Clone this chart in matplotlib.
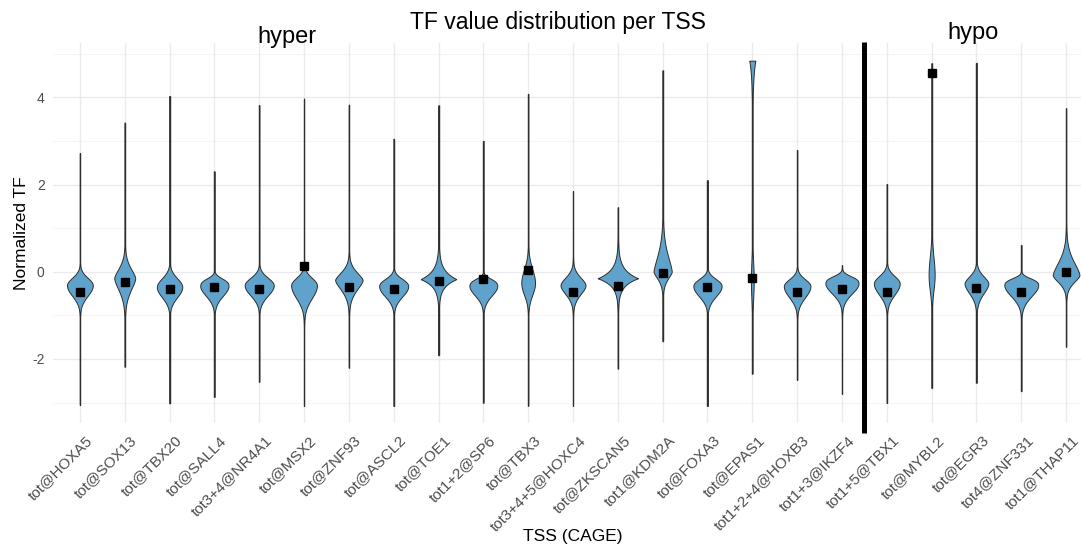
import numpy as np
import matplotlib
matplotlib.use("Agg")
import matplotlib.pyplot as plt
import matplotlib.transforms as mtrans

plt.rcParams["font.family"] = ["Liberation Sans", "DejaVu Sans"]

# TSS categories (left of the divider: hyper, right: hypo)
tss = ["tot@HOXA5", "tot@SOX13", "tot@TBX20", "tot@SALL4", "tot3+4@NR4A1",
       "tot@MSX2", "tot@ZNF93", "tot@ASCL2", "tot@TOE1", "tot1+2@SP6",
       "tot@TBX3", "tot3+4+5@HOXC4", "tot@ZKSCAN5", "tot1@KDM2A", "tot@FOXA3",
       "tot@EPAS1", "tot1+2+4@HOXB3", "tot1+3@IKZF4", "tot1+5@TBX1",
       "tot@MYBL2", "tot@EGR3", "tot4@ZNF331", "tot1@THAP11"]
n_hyper = 18

# range of normalized TF values per TSS
tf_min = [-3.06, -2.18, -3.02, -2.87, -2.52, -3.08, -2.20, -3.08, -1.92, -3.00,
          -3.07, -3.08, -2.22, -1.60, -3.08, -2.34, -2.48, -2.80, -3.01,
          -2.67, -2.55, -2.74, -1.72]
tf_max = [2.72, 3.42, 4.03, 2.30, 3.82, 3.97, 3.83, 3.05, 3.82, 3.00,
          4.08, 1.85, 1.48, 4.62, 2.10, 4.84, 2.79, 0.15, 2.01,
          4.78, 4.79, 0.61, 3.75]
# density mode and its spread above / below the mode
tf_mode = [-0.31, -0.15, -0.35, -0.33, -0.31, -0.31, -0.19, -0.33, -0.17, -0.33,
           -0.26, -0.31, -0.15, 0.00, -0.33, -0.20, -0.33, -0.27, -0.27,
           -0.08, -0.27, -0.31, -0.08]
spread_up = [0.24, 0.33, 0.28, 0.21, 0.24, 0.24, 0.26, 0.22, 0.20, 0.20,
             0.45, 0.26, 0.20, 0.55, 0.22, 0.60, 0.22, 0.20, 0.24,
             0.60, 0.24, 0.19, 0.45]
spread_down = [0.34, 0.40, 0.33, 0.32, 0.33, 0.42, 0.33, 0.33, 0.17, 0.31,
               0.38, 0.30, 0.17, 0.24, 0.33, 0.60, 0.36, 0.33, 0.36,
               0.50, 0.33, 0.36, 0.24]
# kernel sharpness above / below the mode
power_up = [2.0, 1.6, 2.0, 2.8, 2.0, 2.0, 1.6, 2.2, 1.0, 2.8,
            2.0, 1.8, 1.0, 1.5, 2.2, 2.0, 2.0, 2.8, 2.0,
            2.0, 1.8, 2.8, 1.6]
power_down = [2.0, 1.6, 2.0, 1.9, 2.0, 2.0, 1.6, 2.0, 1.0, 1.9,
              2.0, 1.8, 1.0, 1.5, 2.0, 2.0, 2.0, 1.9, 2.0,
              2.0, 1.8, 1.9, 1.6]
peak_density = [0.64, 0.52, 0.63, 0.70, 0.72, 0.64, 0.68, 0.72, 0.89, 0.69,
                0.34, 0.62, 1.00, 0.45, 0.70, 0.07, 0.66, 0.82, 0.64,
                0.15, 0.59, 0.84, 0.66]
# secondary cluster sitting at the top of the range (EPAS1)
upper_density = [0.0] * 15 + [0.15] + [0.0] * 7
upper_spread = [0.0] * 15 + [0.42] + [0.0] * 7
# summary point per TSS
tf_center = [-0.47, -0.23, -0.40, -0.35, -0.40, 0.12, -0.34, -0.40, -0.21, -0.17,
             0.04, -0.46, -0.33, -0.04, -0.34, -0.15, -0.46, -0.40, -0.46,
             4.55, -0.37, -0.47, -0.01]

W, H = 1081, 545
fig = plt.figure(figsize=(W / 100, H / 100), dpi=100)


def fx(px):
    return px / W


def fy(py):
    return 1 - py / H


ax_left, ax_right, ax_top, ax_bot = 53, 1093, 43.4, 423.3
ax = fig.add_axes([fx(ax_left), fy(ax_bot), fx(ax_right - ax_left), (ax_bot - ax_top) / H])

n = len(tss)
xs = np.arange(1, n + 1)
ylo = min(tf_min)
yhi = max(tf_max)
pad = 0.05 * (yhi - ylo)
ax.set_xlim(0.4, n + 0.6)
ax.set_ylim(ylo - pad, yhi + pad)

# grid in the style of a minimal theme
for v in [-3, -1, 1, 3, 5]:
    ax.axhline(v, color="#F3F3F3", lw=0.6, zorder=0)
for v in [-2, 0, 2, 4]:
    ax.axhline(v, color="#EBEBEB", lw=1.0, zorder=0)
for x in xs:
    ax.axvline(x, color="#EBEBEB", lw=1.0, zorder=0)

fill_col = "#5FA3CC"
edge_col = "#2E2E2E"
max_half = 0.45
max_dens = max(max(peak_density), max(upper_density))

for i in range(n):
    x0 = xs[i]
    y = np.linspace(tf_min[i], tf_max[i], 800)
    d = y - tf_mode[i]
    above = d >= 0
    s = np.where(above, spread_up[i], spread_down[i])
    p = np.where(above, power_up[i], power_down[i])
    w = peak_density[i] * np.exp(-np.abs(d / s) ** p)
    if upper_density[i] > 0:
        w = w + upper_density[i] * np.exp(-np.abs(y - tf_max[i]) / upper_spread[i])
    half = max_half * w / max_dens
    ax.plot([x0, x0], [tf_min[i], tf_max[i]], color=edge_col, lw=1.0, zorder=2,
            solid_capstyle="butt")
    ax.fill_betweenx(y, x0 - half, x0 + half, facecolor=fill_col,
                     edgecolor=edge_col, lw=0.7, zorder=3)
    ax.plot(x0, tf_center[i], marker="s", ms=5.2, color="black", zorder=4,
            linestyle="none")

# divider between hyper and hypo
ax.plot([n_hyper + 0.5, n_hyper + 0.5], [-3.70, 5.27], color="black", lw=3.6,
        clip_on=False, zorder=5, solid_capstyle="butt")

for sp in ax.spines.values():
    sp.set_visible(False)
ax.tick_params(length=0)
ax.set_yticks([-2, 0, 2, 4])
ax.set_yticklabels(["-2", "0", "2", "4"], color="#4D4D4D", fontsize=10)
ax.tick_params(axis="y", pad=6)
ax.set_xticks(xs)
ax.set_xticklabels(tss, rotation=45, ha="right", va="top", rotation_mode="anchor",
                   color="#4D4D4D", fontsize=11)
ax.tick_params(axis="x", pad=7)
offset = mtrans.ScaledTranslation(5 / 100, 0, fig.dpi_scale_trans)
for lab in ax.get_xticklabels():
    lab.set_transform(lab.get_transform() + offset)

fig.text(fx(558), fy(22), "TF value distribution per TSS", ha="center", va="center",
         fontsize=16.5)
fig.text(fx(287), fy(43.3), "hyper", ha="center", va="baseline", fontsize=17)
fig.text(fx(973), fy(39.3), "hypo", ha="center", va="baseline", fontsize=17)
fig.text(fx(22), fy(233), "Normalized TF", rotation=90, ha="center", va="center",
         fontsize=12.5)
fig.text(fx(573), fy(537), "TSS (CAGE)", ha="center", va="center", fontsize=12.5)

fig.savefig("out.png", dpi=100)
